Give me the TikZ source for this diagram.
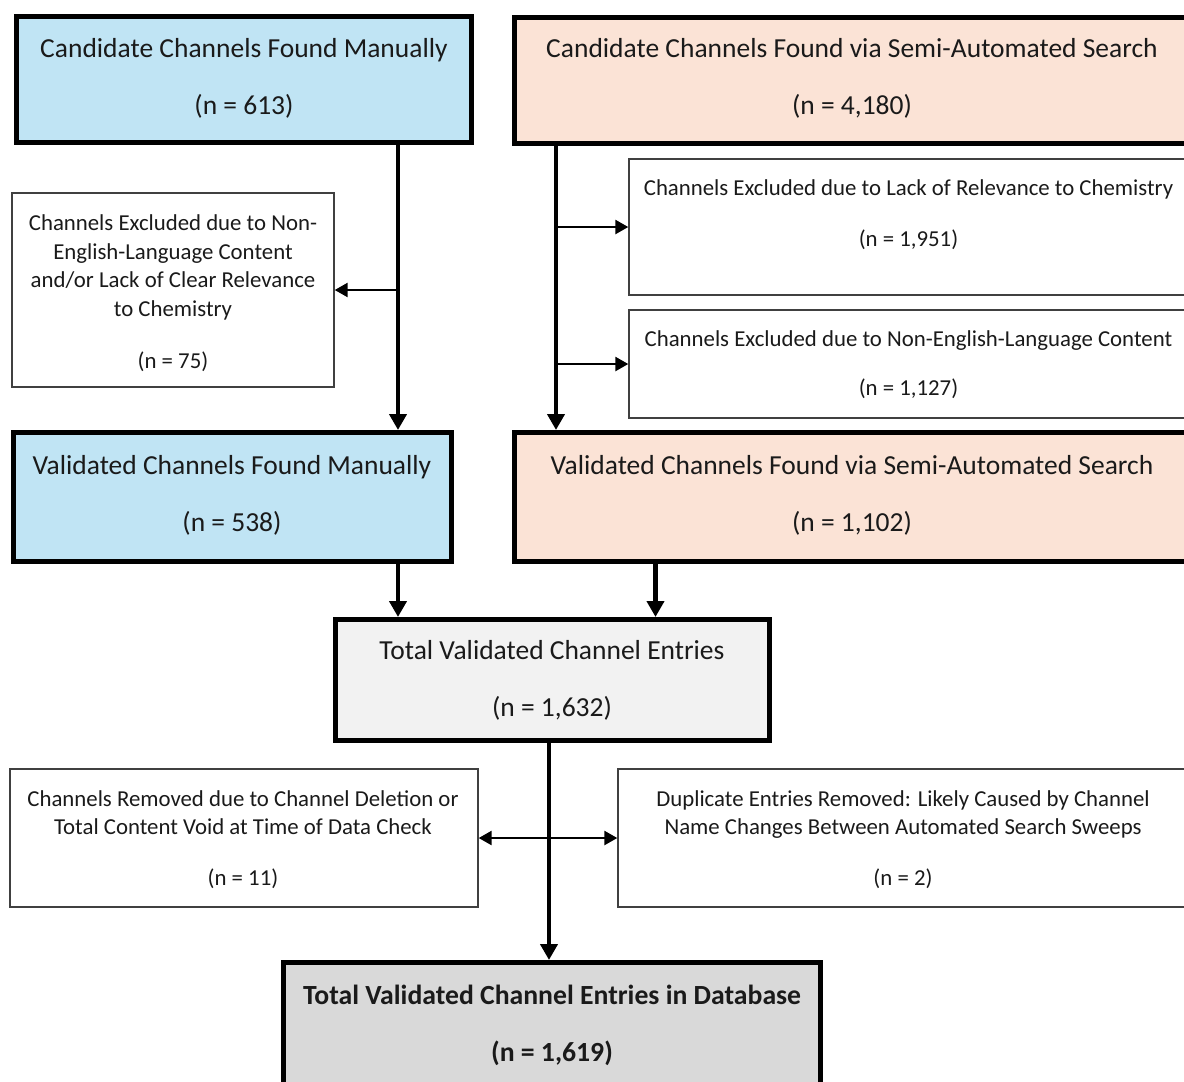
\documentclass[tikz,border=0pt]{standalone}
\usepackage{fontspec}
\setmainfont{Carlito}
\usetikzlibrary{arrows.meta}
\definecolor{blueF}{HTML}{C0E4F4}
\definecolor{peachF}{HTML}{FBE3D6}
\definecolor{grayA}{HTML}{F2F2F2}
\definecolor{grayB}{HTML}{D9D9D9}
\definecolor{txt}{HTML}{1A1A1A}
\tikzset{
  thickbox/.style={draw=black, line width=5pt, rectangle, inner sep=0pt},
  thinbox/.style={draw=black!75, line width=1.4pt, rectangle, inner sep=0pt, fill=white},
  bigtxt/.style={align=center, text=txt, inner sep=0pt, font=\fontsize{27.5}{33}\selectfont},
  smalltxt/.style={align=center, text=txt, inner sep=0pt, font=\fontsize{22.8}{28.5}\selectfont},
  mainarrow/.style={draw=black, line width=4.5pt, -{Triangle[length=16pt,width=17pt]}},
  brancharrow/.style={draw=black, line width=2.5pt, -{Triangle[length=13pt,width=14pt]}},
  dblarrow/.style={draw=black, line width=2.5pt, {Triangle[length=13pt,width=14pt]}-{Triangle[length=13pt,width=14pt]}},
}
\begin{document}
\begin{tikzpicture}[x=1pt,y=-1pt]
\useasboundingbox (0,0) rectangle (1184,1082);
% boxes
\node[thickbox, fill=blueF, minimum width=455pt, minimum height=126pt] (cm) at (244,79.5) {};
\node[thickbox, fill=peachF, minimum width=676pt, minimum height=126pt] (cs) at (852,80) {};
\node[thinbox, minimum width=322pt, minimum height=194pt] (exL) at (173,290) {};
\node[thinbox, minimum width=561pt, minimum height=136pt] (exA) at (909.5,227) {};
\node[thinbox, minimum width=561pt, minimum height=108pt] (exB) at (909.5,364) {};
\node[thickbox, fill=blueF, minimum width=438pt, minimum height=129pt] (vm) at (232.5,497) {};
\node[thickbox, fill=peachF, minimum width=676pt, minimum height=129pt] (vs) at (852,497) {};
\node[thickbox, fill=grayA, minimum width=434pt, minimum height=121pt] (tot) at (552.5,680) {};
\node[thinbox, minimum width=468pt, minimum height=138pt] (rmL) at (244,838) {};
\node[thinbox, minimum width=572pt, minimum height=138pt] (rmR) at (904,838) {};
\node[thickbox, fill=grayB, minimum width=537pt, minimum height=127pt] (fin) at (552,1026) {};
% texts
\node[bigtxt] (cmT) at (244,78.5) {Candidate Channels Found Manually\\[24pt](n = 613)};
\node[bigtxt] (csT) at (852,78.5) {Candidate Channels Found via Semi-Automated Search\\[24pt](n = 4,180)};
\node[smalltxt] (exLT) at (173,293) {Channels Excluded due to Non-\\English-Language Content\\and/or Lack of Clear Relevance\\to Chemistry\\[23.5pt](n = 75)};
\node[smalltxt] (exAT) at (908.5,215) {Channels Excluded due to Lack of Relevance to Chemistry\\[22.5pt](n = 1,951)};
\node[smalltxt] (exBT) at (908.5,365) {Channels Excluded due to Non-English-Language Content\\[20.5pt](n = 1,127)};
\node[bigtxt] (vmT) at (232,495.5) {Validated Channels Found Manually\\[24pt](n = 538)};
\node[bigtxt] (vsT) at (852,495.5) {Validated Channels Found via Semi-Automated Search\\[24pt](n = 1,102)};
\node[bigtxt] (totT) at (552,680.5) {Total Validated Channel Entries\\[24pt](n = 1,632)};
\node[smalltxt] (rmLT) at (243,839.5) {Channels Removed due to Channel Deletion or\\Total Content Void at Time of Data Check\\[22.5pt](n = 11)};
\node[smalltxt] (rmRT) at (903,839.5) {Duplicate Entries Removed: Likely Caused by Channel\\Name Changes Between Automated Search Sweeps\\[22.5pt](n = 2)};
\node[bigtxt, font=\fontsize{27.7}{33}\selectfont\bfseries] (finT) at (552,1025) {Total Validated Channel Entries in Database\\[24pt](n = 1,619)};
% connector x positions
\coordinate (xL) at (398,0);
\coordinate (xR) at (556,0);
\coordinate (xV) at (655.5,0);
\coordinate (xT) at (549,0);
% connectors
\draw[mainarrow] (xL |- cm.south) -- (xL |- vm.north);
\draw[mainarrow] (xR |- cs.south) -- (xR |- vs.north);
\draw[brancharrow] (xL |- exL.east) -- (exL.east);
\draw[brancharrow] (xR |- exA.west) -- (exA.west);
\draw[brancharrow] (xR |- exB.west) -- (exB.west);
\draw[mainarrow] (xL |- vm.south) -- (xL |- tot.north);
\draw[mainarrow] (xV |- vs.south) -- (xV |- tot.north);
\draw[dblarrow] (rmL.east) -- (rmR.west);
\draw[mainarrow] (xT |- tot.south) -- (xT |- fin.north);
\end{tikzpicture}
\end{document}
